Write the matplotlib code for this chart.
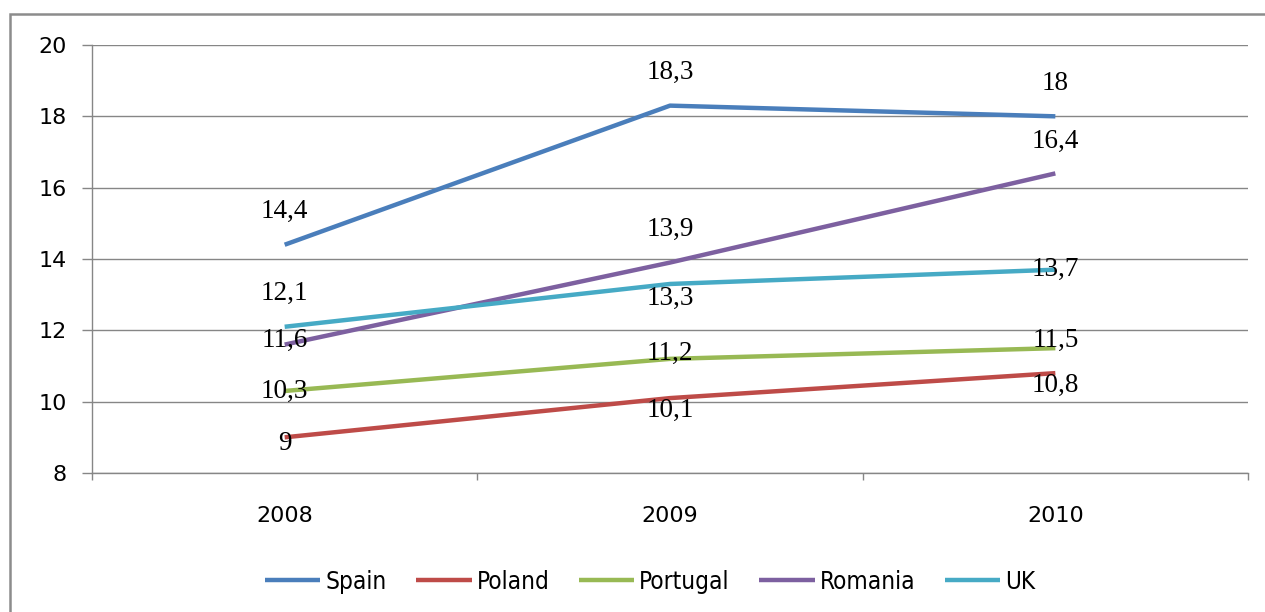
import matplotlib
matplotlib.use("Agg")
from matplotlib import pyplot as plt
from matplotlib.patches import Rectangle

years = ["2008", "2009", "2010"]
countries = ["Spain", "Poland", "Portugal", "Romania", "UK"]
spain = [14.4, 18.3, 18.0]
poland = [9.0, 10.1, 10.8]
portugal = [10.3, 11.2, 11.5]
romania = [11.6, 13.9, 16.4]
uk = [12.1, 13.3, 13.7]
series = [spain, poland, portugal, romania, uk]
colors = ["#4A7EBB", "#BE4B48", "#98B954", "#7D60A0", "#46AAC5"]

# vertical offsets of the value labels, in pixels (positive = up)
label_dy = [
    [33, 33, 33],
    [-6, -12, -12],
    [0, 5, 8],
    [4, 33, 32],
    [33, -14, 0],
]

W, H = 1265, 612
fig = plt.figure(figsize=(W / 100, H / 100), dpi=100)
ax = fig.add_axes([92 / W, 1 - 473 / H, (1248 - 92) / W, (473 - 45) / H])

# outer frame
fig.patches.append(Rectangle((10 / W, -0.1), 1.2, 1 - 14 / H + 0.1, transform=fig.transFigure,
                             fill=False, edgecolor="#8c8c8c", linewidth=1.8))

x = list(range(len(years)))
for name, vals, c, dys in zip(countries, series, colors, label_dy):
    ax.plot(x, vals, color=c, linewidth=3.2, label=name, solid_capstyle="butt")
    for xi, v, dy in zip(x, vals, dys):
        txt = ("%g" % v).replace(".", ",")
        ax.annotate(txt, (xi, v), xytext=(0, dy * 0.72), textcoords="offset points",
                    ha="center", va="center", fontsize=19.5, family="Liberation Serif",
                    color="black")

ax.set_xlim(-0.5, 2.5)
ax.set_ylim(8, 20)
ax.set_yticks(range(8, 21, 2))
ax.set_xticks(x)
ax.set_xticklabels(years)
ax.set_xticks([-0.5, 0.5, 1.5, 2.5], minor=True)
ax.tick_params(axis="x", which="major", length=0, pad=24, labelsize=16, labelcolor="black")
ax.tick_params(axis="x", which="minor", length=5, color="#868686", width=1)
ax.tick_params(axis="y", length=7.2, color="#868686", width=1, pad=11, labelsize=16)
ax.grid(axis="y", color="#868686", linewidth=1)
ax.set_axisbelow(True)
for s in ["top", "right"]:
    ax.spines[s].set_visible(False)
for s in ["left", "bottom"]:
    ax.spines[s].set_color("#868686")
    ax.spines[s].set_linewidth(1)

handles, labels = ax.get_legend_handles_labels()
leg = fig.legend(handles, labels, loc="center", bbox_to_anchor=(650 / W, 1 - 582 / H), ncol=5,
                 frameon=False, handlelength=2.3, handletextpad=0.2, columnspacing=1.2,
                 prop={"family": "DejaVu Sans", "stretch": "condensed", "size": 17.5})

fig.savefig("out.png", dpi=100, facecolor="white")
